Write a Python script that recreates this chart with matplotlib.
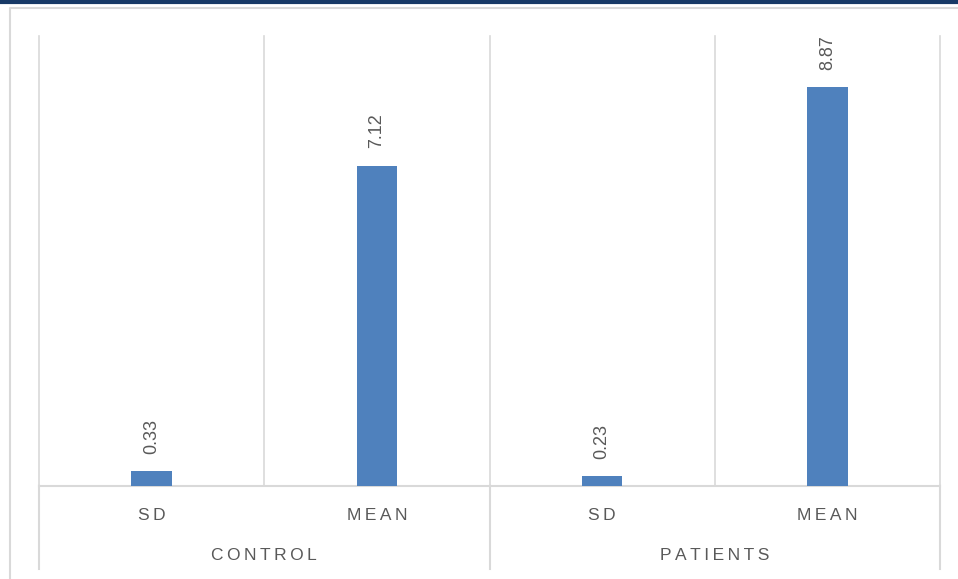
import matplotlib.pyplot as plt
from matplotlib.lines import Line2D

groups = ['CONTROL', 'PATIENTS']
stats = ['SD', 'MEAN']
values = [0.33, 7.12, 0.23, 8.87]

bar_color = '#4F81BD'
grid_color = '#D9D9D9'
text_color = '#595959'
fam = ['Liberation Sans', 'DejaVu Sans']


def spaced(s):
    return '\u2009'.join(s)


fig = plt.figure(figsize=(9.58, 5.79), dpi=100)
W, H = 958, 579
ax = fig.add_axes([39 / W, (H - 486) / H, 901 / W, 450 / H])

n = len(values)
xs = list(range(n))
ax.bar(xs, values, width=0.18, color=bar_color, zorder=3)
for x, v in zip(xs, values):
    ax.text(x, v + 0.38, f'{v:.2f}', rotation=90, ha='center', va='bottom',
            fontsize=13, color=text_color, family=fam)

ax.set_xlim(-0.5, n - 0.5)
ax.set_ylim(0, 10)
ax.set_xticks([])
ax.set_yticks([])
for s in ['top', 'right', 'left']:
    ax.spines[s].set_visible(False)
ax.spines['bottom'].set_color(grid_color)
ax.spines['bottom'].set_linewidth(1.5)

# vertical separators between the categories
for b in [i - 0.5 for i in range(n + 1)]:
    ax.axvline(b, color=grid_color, lw=1.2, zorder=1, clip_on=False)

# two-level category axis below the plot
trans = ax.get_xaxis_transform()
for i, lab in enumerate(stats * len(groups)):
    ax.text(i, -29 / 450, spaced(lab), transform=trans, ha='center', va='center',
            fontsize=12.5, color=text_color, family=fam)
for g, name in enumerate(groups):
    ax.text(2 * g + 0.5, -69 / 450, spaced(name), transform=trans, ha='center',
            va='center', fontsize=12.5, color=text_color, family=fam)
for b in [-0.5, 1.5, 3.5]:
    ax.add_line(Line2D([b, b], [0, -83 / 450], transform=trans, color=grid_color,
                       lw=1.5, clip_on=False))

# outer chart frame and header band
fig.add_artist(Line2D([0, 1], [1 - 1.5 / H, 1 - 1.5 / H], color='#173966', lw=3,
                      transform=fig.transFigure))
fig.add_artist(Line2D([9.5 / W, 9.5 / W, 1], [0, 1 - 7.5 / H, 1 - 7.5 / H],
                      color=grid_color, lw=1.5, transform=fig.transFigure))

fig.savefig('out.png', dpi=100)
